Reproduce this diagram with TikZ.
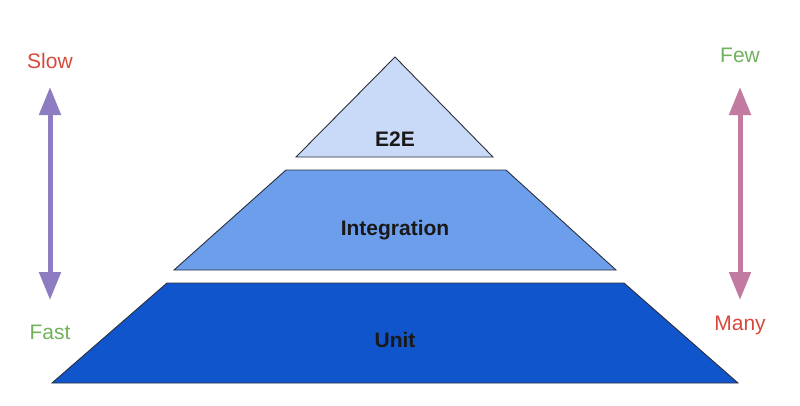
\documentclass[tikz,border=0pt]{standalone}
\usepackage{fontspec}
\setmainfont{Liberation Sans}
\usetikzlibrary{arrows.meta}

\definecolor{etoefill}{HTML}{C9DAF8}
\definecolor{integfill}{HTML}{6D9EEB}
\definecolor{unitfill}{HTML}{1155CC}
\definecolor{edgegray}{HTML}{2B2F3A}
\definecolor{speedarrow}{HTML}{8E7CC3}
\definecolor{countarrow}{HTML}{C27BA0}
\definecolor{badred}{HTML}{D8483A}
\definecolor{goodgreen}{HTML}{72B15C}

\tikzset{
  layer/.style={draw=edgegray,line width=0.9pt,line join=miter},
  layerlabel/.style={font=\fontsize{21}{24}\selectfont\bfseries,text=black!90,inner sep=0pt},
  sidelabel/.style={font=\fontsize{21}{24}\selectfont,inner sep=0pt},
  bigarrow/.style={line width=5pt,{Triangle[length=28pt,width=21pt]}-{Triangle[length=28pt,width=21pt]}}
}

\begin{document}
\begin{tikzpicture}[x=1pt,y=-1pt]
  \useasboundingbox (0,0) rectangle (800,405);
  % pyramid
  \fill[unitfill,layer] (52,383) -- (738,383) -- (624,283) -- (167,283) -- cycle;
  \fill[integfill,layer] (174,270) -- (616,270) -- (506,170) -- (286,170) -- cycle;
  \fill[etoefill,layer] (296,157) -- (493,157) -- (395,57) -- cycle;
  \node[layerlabel] (unit) at (395,340) {Unit};
  \node[layerlabel] (integ) at (395,230) {Integration};
  \node[layerlabel] (etoe) at (395,139) {E2E};
  % speed
  \node[sidelabel,text=badred] (slow) at (50,61) {Slow};
  \node[sidelabel,text=goodgreen] (fast) at (50,332) {Fast};
  \coordinate (slowtip) at (50,87);
  \coordinate (fasttip) at (50,300);
  \draw[bigarrow,speedarrow] (slowtip) -- (fasttip);
  % count
  \node[sidelabel,text=goodgreen] (few) at (740,55) {Few};
  \node[sidelabel,text=badred] (many) at (740,325) {Many};
  \coordinate (fewtip) at (740,87);
  \coordinate (manytip) at (740,300);
  \draw[bigarrow,countarrow] (fewtip) -- (manytip);
\end{tikzpicture}
\end{document}
